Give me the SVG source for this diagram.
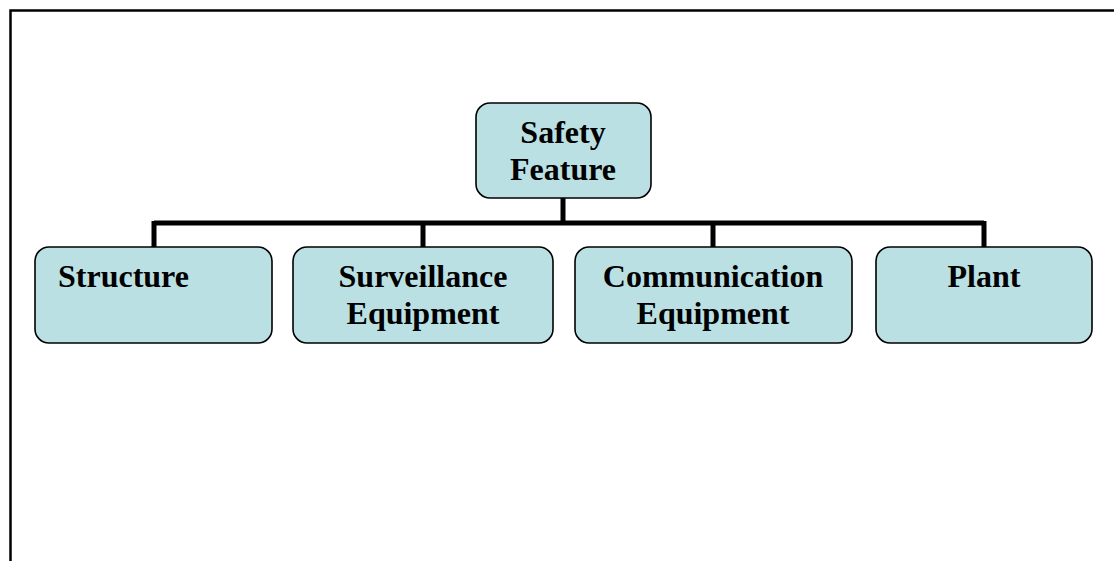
<svg xmlns="http://www.w3.org/2000/svg" width="1114" height="561" viewBox="0 0 1114 561">
<style>
.box{fill:#bbe0e3;stroke:#000;stroke-width:1.6}
.t{font-family:"Liberation Serif","Times New Roman",serif;font-weight:bold;font-size:32px;fill:#000}
.c{text-anchor:middle}
.conn{fill:none;stroke:#000;stroke-width:5}
</style>
<rect x="0" y="0" width="1114" height="561" fill="#fff"/>
<rect x="10.5" y="10.5" width="1120" height="580" fill="none" stroke="#000" stroke-width="2.5"/>
<g id="connectors">
<path class="conn" d="M563 198V223M154 223H984M154 221V247M423 221V247M713 221V247M984 221V247"/>
</g>
<g id="safety">
<rect class="box" x="476" y="103" width="175" height="95" rx="14"/>
<text class="t c" x="563" y="143">Safety</text>
<text class="t c" x="563" y="180">Feature</text>
</g>
<g id="structure">
<rect class="box" x="35" y="247" width="237" height="96" rx="14"/>
<text class="t" x="58" y="287">Structure</text>
</g>
<g id="surveillance">
<rect class="box" x="293" y="247" width="260" height="96" rx="14"/>
<text class="t c" x="423" y="287">Surveillance</text>
<text class="t c" x="423" y="324">Equipment</text>
</g>
<g id="communication">
<rect class="box" x="575" y="247" width="277" height="96" rx="14"/>
<text class="t c" x="713" y="287">Communication</text>
<text class="t c" x="713" y="324">Equipment</text>
</g>
<g id="plant">
<rect class="box" x="876" y="247" width="216" height="96" rx="14"/>
<text class="t c" x="984" y="287">Plant</text>
</g>
</svg>
